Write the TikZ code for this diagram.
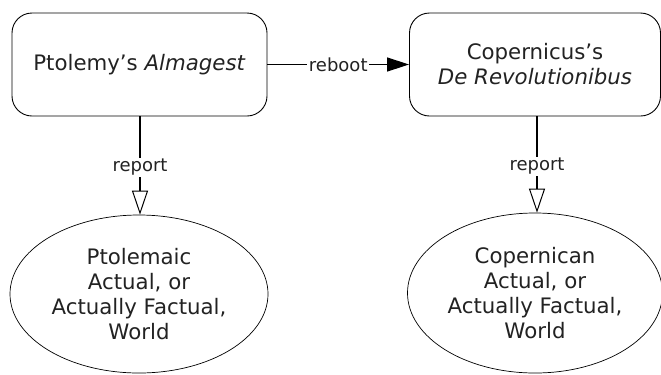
\documentclass[tikz,border=0pt]{standalone}
\usepackage{fontspec}
\setmainfont{DejaVu Sans}
\usetikzlibrary{shapes.geometric,arrows.meta}
\definecolor{ink}{HTML}{222222}
\begin{document}
\begin{tikzpicture}[x=1bp,y=-1bp,
  book/.style={draw=black,line width=0.9bp,rounded corners=20bp,
    minimum width=255bp,minimum height=103bp,inner sep=0pt,align=center,
    text=ink,font=\fontsize{21.3bp}{25bp}\selectfont},
  world/.style={ellipse,draw=black,line width=0.7bp,
    minimum width=258bp,minimum height=158bp,inner sep=0pt,align=center,
    text=ink,font=\fontsize{21.3bp}{25bp}\selectfont},
  rel/.style={line width=1.2bp,draw=black},
  lbl/.style={fill=white,inner sep=1.5bp,text=ink,font=\fontsize{18bp}{22bp}\selectfont},
  reboottip/.style={-{Triangle[length=22bp,width=14bp]}},
  reporttip/.style={-{Triangle[open,length=24bp,width=16bp,line width=1bp]}}]
  \useasboundingbox (0,0) rectangle (661,374);

  % the two books
  \node[book] (alm) at (139.5,64.5) {Ptolemy’s \textit{Almagest}};
  \node[book,minimum width=251bp] (rev) at (535,64.5) {Copernicus’s\\\textit{De Revolutionibus}};

  % the two worlds
  \node[world] (ptw) at (139,294) {Ptolemaic\\Actual, or\\Actually Factual,\\World};
  \node[world,minimum width=255bp,minimum height=160bp] (cpw) at (535,293) {Copernican\\Actual, or\\Actually Factual,\\World};

  % relations
  \draw[rel,reboottip] (alm.east) -- node[lbl] (lreboot) {reboot} (rev.west);
  \draw[rel,reporttip] (alm.south -| 140,0) -- node[lbl,pos=0.52] (lrep1) {report} (ptw.north -| 140,0);
  \draw[rel,reporttip] (rev.south -| 537,0) -- node[lbl,pos=0.52] (lrep2) {report} (cpw.north -| 537,0);
\end{tikzpicture}
\end{document}
